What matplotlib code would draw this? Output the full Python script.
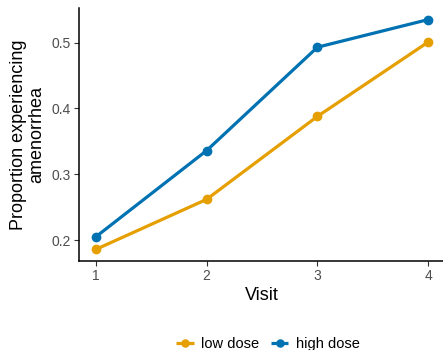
import matplotlib
matplotlib.use('Agg')  # no display
import matplotlib.pyplot as plt

# values
visits = [1, 2, 3, 4]
low_dose = [0.186, 0.262, 0.388, 0.501]
high_dose = [0.205, 0.336, 0.493, 0.535]
series_names = ['low dose', 'high dose']
y_ticks = [0.2, 0.3, 0.4, 0.5]

plt.rcParams['font.family'] = ['Liberation Sans', 'DejaVu Sans']

fig = plt.figure(figsize=(4.43, 3.5), dpi=100)
ax = fig.add_axes([79 / 443, 89 / 350, 366 / 443, 253 / 350])

ax.plot(visits, low_dose, color='#E69F00', lw=2.3, marker='o', ms=6,
        label=series_names[0], solid_capstyle='butt')
ax.plot(visits, high_dose, color='#0072B2', lw=2.3, marker='o', ms=6,
        label=series_names[1], solid_capstyle='butt')

ax.set_xlim(0.85, 4.15)
ax.set_ylim(0.1685, 0.5525)
ax.set_xticks(visits)
ax.set_xticklabels([str(v) for v in visits])
ax.set_yticks(y_ticks)
ax.set_yticklabels([f'{v:.1f}' for v in y_ticks])

for side in ['top', 'right']:
    ax.spines[side].set_visible(False)
for side in ['left', 'bottom']:
    ax.spines[side].set_linewidth(1.1)
    ax.spines[side].set_color('black')

ax.tick_params(axis='both', length=3.5, width=0.8, color='#333333',
               labelcolor='#4D4D4D', labelsize=10, pad=2.5)

ax.set_xlabel('Visit', fontsize=13, labelpad=3)
ax.set_ylabel('Proportion experiencing\namenorrhea', fontsize=13,
              labelpad=4, linespacing=1.1, multialignment='center')

fig.legend(loc='lower center', bbox_to_anchor=(0.605, -0.04), ncol=2,
           frameon=False, fontsize=10.5, handlelength=1.2, handletextpad=0.5,
           columnspacing=0.8, markerscale=0.85)

fig.savefig('out.png', dpi=100)
